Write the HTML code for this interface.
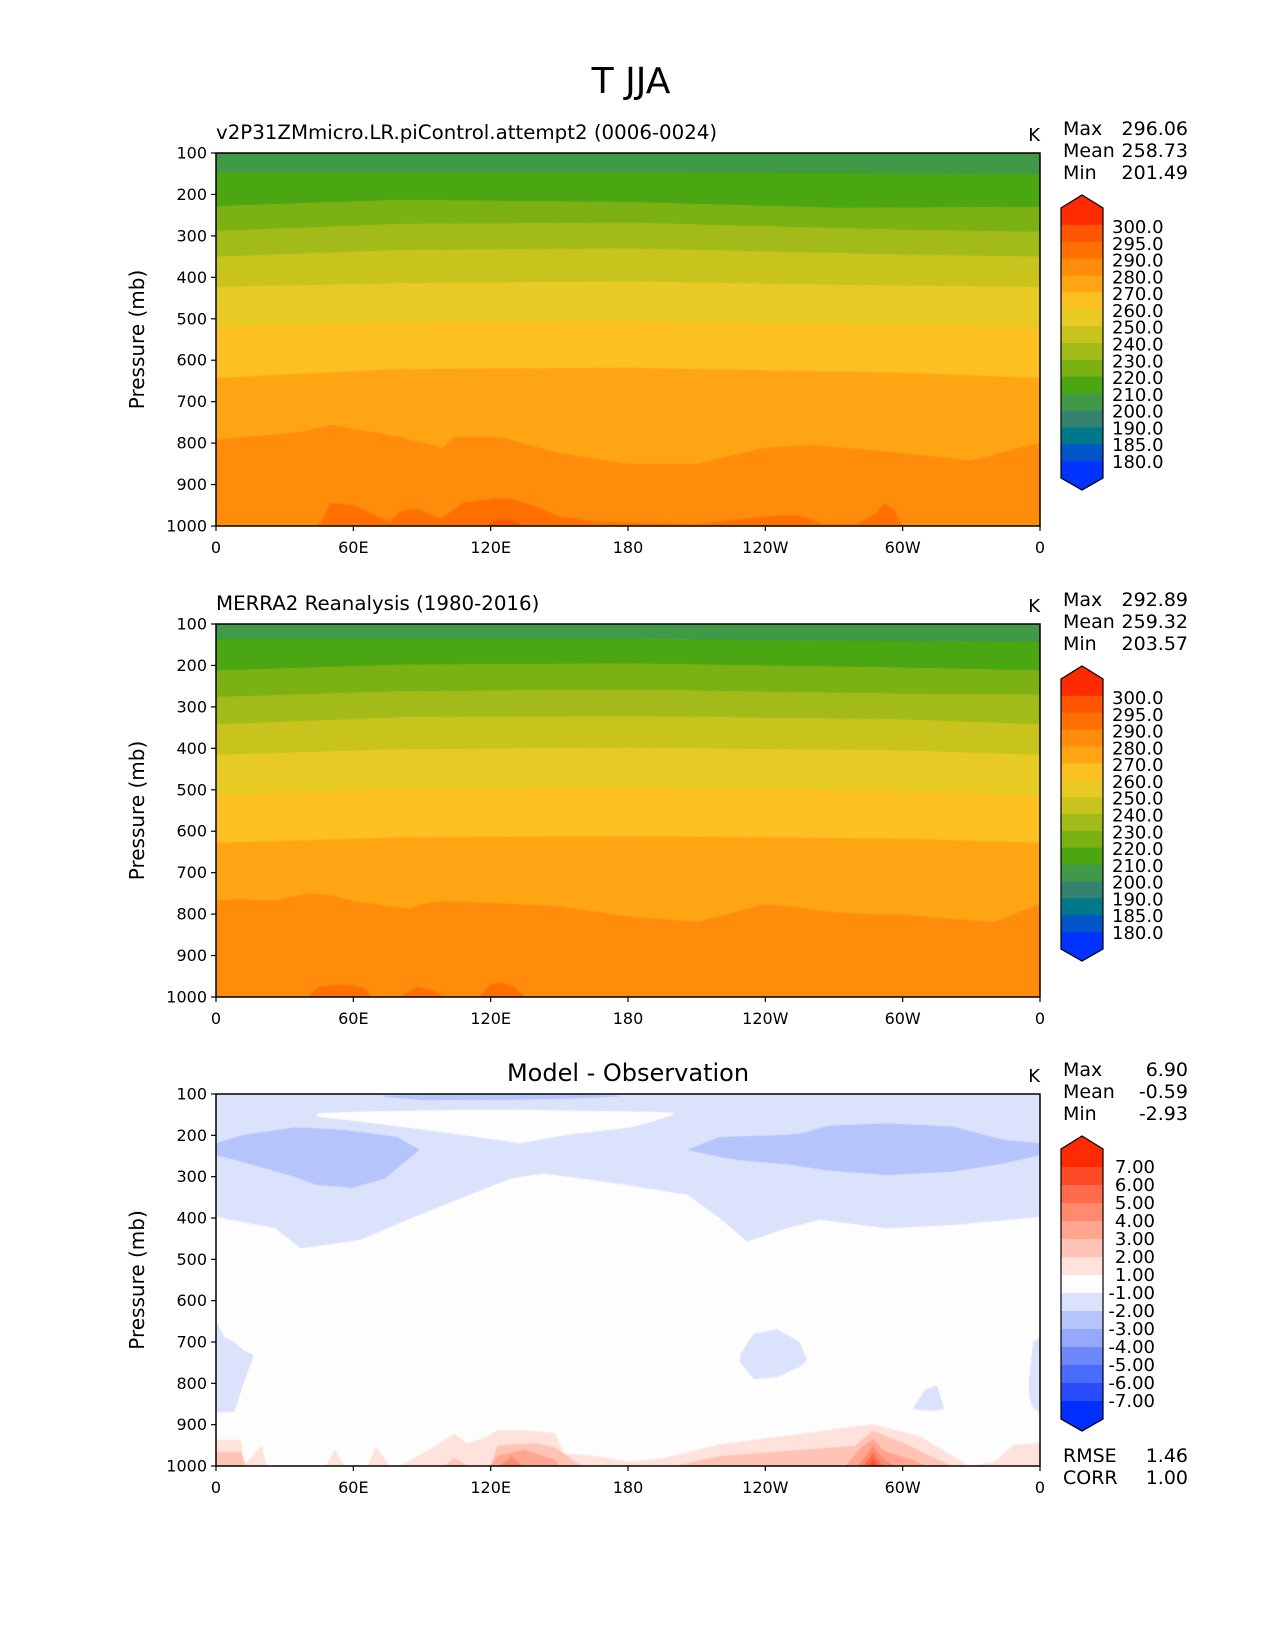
<!DOCTYPE html>
<html>
<head>
<meta charset="utf-8">
<style>
  html, body { margin: 0; padding: 0; background: #fff; }
  #page { position: relative; width: 1275px; height: 1650px; overflow: hidden; background: #fff; font-family: "DejaVu Sans", "Liberation Sans", sans-serif; }
  canvas { position: absolute; }
  svg { position: absolute; left: 0; top: 0; }
</style>
</head>
<body>
<div id="page">
  <canvas id="c1" width="824" height="373" style="left:216px;top:153px"></canvas>
  <canvas id="c2" width="824" height="373" style="left:216px;top:624px"></canvas>
  <canvas id="c3" width="824" height="372" style="left:216px;top:1094px"></canvas>
  <svg id="ov" width="1275" height="1650"></svg>
</div>
<script>
// ---------- shared tick data ----------
const xTickLons = [0, 60, 120, 180, 240, 300, 360];
const xTickLabels = ["0", "60E", "120E", "180", "120W", "60W", "0"];
const yTickVals = [100, 200, 300, 400, 500, 600, 700, 800, 900, 1000];

// ---------- panel 1 (model) contour boundaries: pressure (mb) vs longitude ----------
const m210Lons = [0, 180, 360];             const m210P = [146, 146, 150];
const m220Lons = [0, 80, 180, 270, 360];    const m220P = [228, 213, 218, 232, 230];
const m230Lons = [0, 80, 180, 300, 360];    const m230P = [288, 271, 268, 285, 290];
const m240Lons = [0, 80, 180, 300, 360];    const m240P = [350, 334, 330, 345, 350];
const m250Lons = [0, 80, 180, 300, 360];    const m250P = [423, 414, 410, 420, 423];
const m260Lons = [0, 80, 180, 300, 360];    const m260P = [520, 507, 505, 515, 520];
const m270Lons = [0, 80, 180, 300, 360];    const m270P = [643, 621, 618, 630, 643];
const m280Lons = [0, 37, 51, 80, 99, 104, 124, 150, 180, 210, 240, 260, 300, 330, 360];
const m280P    = [792, 773, 756, 785, 811, 785, 785, 824, 850, 850, 811, 804, 824, 842, 799];
const m290Lons = [0, 44, 46, 50, 60, 72, 76, 80, 88, 98, 108, 121, 129, 140, 150, 165, 180, 210, 235, 245, 255, 265, 280, 288, 292, 296, 300, 360];
const m290P    = [1000, 1000, 990, 944, 950, 980, 990, 966, 958, 983, 944, 934, 934, 953, 977, 988, 992, 995, 980, 975, 975, 995, 995, 970, 945, 960, 1000, 1000];
const m295Lons = [0, 118, 122, 130, 134, 360];
const m295P    = [1000, 1000, 985, 985, 1000, 1000];

// ---------- panel 2 (MERRA2) contour boundaries ----------
const o210Lons = [0, 180, 360];             const o210P = [136, 136, 143];
const o220Lons = [0, 80, 180, 300, 360];    const o220P = [212, 198, 195, 205, 212];
const o230Lons = [0, 80, 180, 300, 360];    const o230P = [276, 262, 258, 268, 270];
const o240Lons = [0, 80, 180, 300, 360];    const o240P = [342, 325, 322, 330, 342];
const o250Lons = [0, 80, 180, 300, 360];    const o250P = [416, 402, 398, 405, 416];
const o260Lons = [0, 80, 180, 300, 360];    const o260P = [513, 498, 495, 503, 513];
const o270Lons = [0, 80, 180, 300, 360];    const o270P = [628, 615, 612, 618, 628];
const o280Lons = [0, 10, 25, 40, 50, 60, 75, 85, 90, 100, 120, 150, 180, 210, 240, 250, 270, 290, 300, 320, 340, 360];
const o280P    = [768, 763, 768, 750, 755, 768, 781, 786, 776, 768, 773, 781, 806, 819, 776, 781, 796, 801, 801, 811, 819, 776];
const o290Lons = [0, 40, 45, 55, 60, 65, 68, 80, 88, 95, 100, 115, 120, 125, 130, 135, 360];
const o290P    = [1000, 1000, 975, 970, 972, 980, 1000, 1000, 975, 985, 1000, 1000, 970, 965, 975, 1000, 1000];
const o295Lons = [0, 360];
const o295P    = [1000, 1000];

// ---------- panel 3 (difference) regions ----------
const dL1Lons = [0, 26, 37, 63, 85, 107, 129, 143, 177, 206, 220, 232, 249, 264, 293, 322, 360];
const dL1P    = [397, 425, 473, 453, 401, 352, 304, 292, 318, 344, 400, 457, 425, 404, 425, 417, 397];
const dWhiteLons = [44, 60, 97, 133, 153, 181, 190, 200];
const dWhiteTop  = [147, 143, 139, 138, 140, 142, 143, 145];
const dWhiteBot  = [155, 165, 191, 219, 199, 181, 168, 150];
const dBlueALons = [0, 12, 34, 44, 56, 59, 74, 79, 89];
const dBlueATop  = [219, 199, 181, 183, 187, 189, 200, 204, 235];
const dBlueABot  = [248, 265, 300, 320, 325, 328, 304, 280, 235];
const dBlueBLons = [206, 220, 227, 249, 256, 267, 293, 322, 344, 360];
const dBlueBTop  = [235, 204, 203, 199, 195, 177, 171, 179, 211, 219];
const dBlueBBot  = [235, 252, 259, 270, 275, 285, 296, 288, 268, 248];
const dBlueCLons = [73, 90, 130, 160, 176];
const dBlueCTop  = [104, 101, 101, 101, 104];
const dBlueCBot  = [106, 115, 114, 110, 106];
const dPatchALons = [0, 4, 8, 12, 16];
const dPatchATop  = [651, 690, 700, 720, 730];
const dPatchABot  = [870, 870, 870, 800, 740];
const dPatchBLons = [229, 235, 245, 255, 258];
const dPatchBTop  = [730, 680, 669, 700, 740];
const dPatchBBot  = [750, 790, 785, 760, 745];
const dPatchCLons = [305, 310, 315, 318];
const dPatchCTop  = [855, 815, 805, 860];
const dPatchCBot  = [862, 866, 866, 862];
const dPatchDLons = [355, 357, 360];
const dPatchDTop  = [800, 700, 690];
const dPatchDBot  = [830, 860, 870];
const dR1Lons = [0, 11, 12, 20, 22, 30, 48, 52, 56, 66, 70, 76, 80, 90, 93, 104, 110, 118, 123, 135, 148, 152, 165, 181, 196, 220, 249, 270, 287, 307, 322, 329, 340, 348, 360];
const dR1P    = [937, 937, 1000, 950, 1000, 1000, 1000, 960, 1000, 1000, 955, 1000, 1000, 970, 962, 922, 945, 930, 914, 914, 920, 970, 975, 990, 980, 948, 927, 911, 899, 927, 976, 1000, 990, 951, 943];
const dR2Lons = [0, 11, 13, 100, 104, 110, 120, 123, 140, 148, 160, 200, 220, 249, 279, 287, 300, 315, 322, 360];
const dR2P    = [966, 966, 1000, 1000, 980, 1000, 1000, 950, 945, 955, 1000, 1000, 976, 964, 951, 915, 943, 984, 1000, 1000];
const dR3Lons = [0, 120, 123, 135, 148, 150, 275, 281, 287, 292, 304, 310, 360];
const dR3P    = [1000, 1000, 975, 961, 985, 1000, 1000, 960, 935, 964, 984, 1000, 1000];
const dR4Lons = [0, 124, 129, 134, 280, 284, 287, 290, 296, 360];
const dR4P    = [1000, 1000, 977, 1000, 1000, 975, 951, 975, 1000, 1000];
const dR5Lons = [0, 283, 287, 291, 360];
const dR5P    = [1000, 1000, 968, 1000, 1000];
const dR6Lons = [0, 285, 287, 289, 360];
const dR6P    = [1000, 1000, 985, 1000, 1000];

// ---------- colorbar data ----------
const tColors = ["#ff2a00","#ff5500","#ff7000","#ff8c0a","#ffa513","#fcc020","#e8ca24","#c8c41d","#a2bb18","#7bb113","#4aa611","#3f9946","#35836e","#00788c","#0056c8","#0033ff"];
const tLabels = ["300.0","295.0","290.0","280.0","270.0","260.0","250.0","240.0","230.0","220.0","210.0","200.0","190.0","185.0","180.0"];
const dColors = ["#ff2a00","#ff4a28","#ff6a4a","#ff8a6e","#ffa590","#ffc4b6","#ffe2db","#fdfdfd","#dbe2fc","#b6c4fc","#95a8fc","#6e88fc","#4a6cfc","#2a4cfc","#0030ff"];
const dLabels = ["7.00","6.00","5.00","4.00","3.00","2.00","1.00","-1.00","-2.00","-3.00","-4.00","-5.00","-6.00","-7.00"];

// ---------- helpers ----------
function interp(xs, ys, x) {
  if (x <= xs[0]) return ys[0];
  if (x >= xs[xs.length - 1]) return ys[ys.length - 1];
  for (let i = 1; i < xs.length; i++) {
    if (x <= xs[i]) { const t = (x - xs[i-1]) / (xs[i] - xs[i-1]); return ys[i-1] + t * (ys[i] - ys[i-1]); }
  }
  return ys[ys.length - 1];
}
function makeY(H) { return p => (p - 100) / 900 * H; }

function drawBands(canvasId, bounds, colors) {
  const cv = document.getElementById(canvasId), ctx = cv.getContext('2d');
  const W = cv.width, H = cv.height, yS = makeY(H);
  for (let px = 0; px < W; px++) {
    const lon = (px + 0.5) / W * 360;
    let prev = 0;
    for (let b = 0; b <= bounds.length; b++) {
      let y = b < bounds.length ? yS(interp(bounds[b][0], bounds[b][1], lon)) : H;
      if (y < prev) y = prev;
      ctx.fillStyle = colors[b];
      ctx.fillRect(px, prev, 1, y - prev + 0.6);
      prev = y;
    }
  }
}

drawBands('c1',
  [[m210Lons,m210P],[m220Lons,m220P],[m230Lons,m230P],[m240Lons,m240P],[m250Lons,m250P],[m260Lons,m260P],[m270Lons,m270P],[m280Lons,m280P],[m290Lons,m290P],[m295Lons,m295P]],
  ["#3f9946","#4aa611","#7bb113","#a2bb18","#c8c41d","#e8ca24","#fcc020","#ffa513","#ff8c0a","#ff7000","#ff5500"]);
drawBands('c2',
  [[o210Lons,o210P],[o220Lons,o220P],[o230Lons,o230P],[o240Lons,o240P],[o250Lons,o250P],[o260Lons,o260P],[o270Lons,o270P],[o280Lons,o280P],[o290Lons,o290P],[o295Lons,o295P]],
  ["#3f9946","#4aa611","#7bb113","#a2bb18","#c8c41d","#e8ca24","#fcc020","#ffa513","#ff8c0a","#ff7000","#ff5500"]);

(function drawDiff() {
  const cv = document.getElementById('c3'), ctx = cv.getContext('2d');
  const W = cv.width, H = cv.height, yS = makeY(H);
  ctx.fillStyle = "#fdfdfd"; ctx.fillRect(0, 0, W, H);
  function region(lons, top, bot, color) {
    ctx.fillStyle = color;
    for (let px = 0; px < W; px++) {
      const lon = (px + 0.5) / W * 360;
      if (lon < lons[0] || lon > lons[lons.length - 1]) continue;
      const y0 = yS(interp(lons, top, lon)), y1 = yS(interp(lons, bot, lon));
      if (y1 > y0) ctx.fillRect(px, y0, 1, y1 - y0);
    }
  }
  function fromTop(lons, pv, color) {
    ctx.fillStyle = color;
    for (let px = 0; px < W; px++) {
      const lon = (px + 0.5) / W * 360;
      const y = yS(interp(lons, pv, lon));
      if (y < H) ctx.fillRect(px, y, 1, H - y);
    }
  }
  ctx.fillStyle = "#dbe2fc";
  for (let px = 0; px < W; px++) {
    const lon = (px + 0.5) / W * 360;
    ctx.fillRect(px, 0, 1, yS(interp(dL1Lons, dL1P, lon)));
  }
  region(dWhiteLons, dWhiteTop, dWhiteBot, "#fdfdfd");
  region(dBlueALons, dBlueATop, dBlueABot, "#b6c4fc");
  region(dBlueBLons, dBlueBTop, dBlueBBot, "#b6c4fc");
  region(dBlueCLons, dBlueCTop, dBlueCBot, "#b6c4fc");
  region(dPatchALons, dPatchATop, dPatchABot, "#dbe2fc");
  region(dPatchBLons, dPatchBTop, dPatchBBot, "#dbe2fc");
  region(dPatchCLons, dPatchCTop, dPatchCBot, "#dbe2fc");
  region(dPatchDLons, dPatchDTop, dPatchDBot, "#dbe2fc");
  fromTop(dR1Lons, dR1P, "#ffe2db");
  fromTop(dR2Lons, dR2P, "#ffc4b6");
  fromTop(dR3Lons, dR3P, "#ffa590");
  fromTop(dR4Lons, dR4P, "#ff8a6e");
  fromTop(dR5Lons, dR5P, "#ff6a4a");
  fromTop(dR6Lons, dR6P, "#ff4a28");
})();

// ---------- SVG annotations ----------
const NS = "http://www.w3.org/2000/svg";
const svg = document.getElementById('ov');
function el(tag, attrs, text) {
  const e = document.createElementNS(NS, tag);
  for (const k in attrs) e.setAttribute(k, attrs[k]);
  if (text !== undefined) e.textContent = text;
  svg.appendChild(e);
  return e;
}
const PX = 216, PW = 824, PH = 373;

let t = el('text', {x: 631, y: 93, 'font-size': 36, 'text-anchor': 'middle', fill: '#000'}, 'T JJA');



const panels = [
  {top: 153, h: 373, title: "v2P31ZMmicro.LR.piControl.attempt2 (0006-0024)", centerTitle: false, stats: [["Max","296.06"],["Mean","258.73"],["Min","201.49"]], cb: "t", key: "model"},
  {top: 624, h: 373, title: "MERRA2 Reanalysis (1980-2016)", centerTitle: false, stats: [["Max","292.89"],["Mean","259.32"],["Min","203.57"]], cb: "t", key: "obs"},
  {top: 1094, h: 372, title: "Model - Observation", centerTitle: true, stats: [["Max","6.90"],["Mean","-0.59"],["Min","-2.93"]], cb: "d", key: "diff"}
];

panels.forEach(P => {
  const top = P.top, H = P.h;
  const yS = p => top + (p - 100) / 900 * H;
  const xS = lon => PX + lon / 360 * PW;
  let fr = el('rect', {x: PX, y: top, width: PW, height: H, fill: 'none', stroke: '#000', 'stroke-width': 1.5});
  
  
  yTickVals.forEach(v => {
    const y = yS(v);
    let tk = el('line', {x1: PX - 5, x2: PX, y1: y, y2: y, stroke: '#000', 'stroke-width': 1.2});
    
    
    let lb = el('text', {x: PX - 9, y: y + 5.5, 'font-size': 16, 'text-anchor': 'end', fill: '#000'}, String(v));
    
    
  });
  xTickLons.forEach((lon, i) => {
    const x = xS(lon);
    let tk = el('line', {x1: x, x2: x, y1: top + H, y2: top + H + 5, stroke: '#000', 'stroke-width': 1.2});
    
    
    let lb = el('text', {x: x, y: top + H + 27, 'font-size': 16, 'text-anchor': 'middle', fill: '#000'}, xTickLabels[i]);
    
    
  });
  let yl = el('text', {x: 0, y: 0, 'font-size': 20, 'text-anchor': 'middle', fill: '#000', transform: 'translate(144,' + (top + H / 2) + ') rotate(-90)'}, 'Pressure (mb)');
  
  
  let ti;
  if (P.centerTitle) ti = el('text', {x: PX + PW / 2, y: top - 13, 'font-size': 24, 'text-anchor': 'middle', fill: '#000'}, P.title);
  else ti = el('text', {x: PX, y: top - 14, 'font-size': 19.8, fill: '#000'}, P.title);
  
  
  let k = el('text', {x: PX + PW, y: top - 12, 'font-size': 18, 'text-anchor': 'end', fill: '#000'}, 'K');
  
  
  P.stats.forEach((s, i) => {
    const by = top - 18 + i * 22;
    let a = el('text', {x: 1063, y: by, 'font-size': 19, fill: '#000'}, s[0]);
    
    
    let b = el('text', {x: 1188, y: by, 'font-size': 19, 'text-anchor': 'end', fill: '#000'}, s[1]);
    
    
  });
  const cols = P.cb === 't' ? tColors : dColors;
  const labs = P.cb === 't' ? tLabels : dLabels;
  const cx0 = 1061, cx1 = 1103, cTop = top + 55, cBot = top + 325;
  const n = cols.length, bh = (cBot - cTop) / n;
  let tri1 = el('polygon', {points: `${cx0},${cTop} ${(cx0+cx1)/2},${top+42} ${cx1},${cTop}`, fill: cols[0]});
  
  
  let tri2 = el('polygon', {points: `${cx0},${cBot} ${(cx0+cx1)/2},${top+337} ${cx1},${cBot}`, fill: cols[n-1]});
  
  
  cols.forEach((c, i) => {
    let r = el('rect', {x: cx0, y: cTop + i * bh, width: cx1 - cx0, height: bh + 0.5, fill: c});
    
    
  });
  let ol = el('polygon', {points: `${cx0},${cTop} ${(cx0+cx1)/2},${top+42} ${cx1},${cTop} ${cx1},${cBot} ${(cx0+cx1)/2},${top+337} ${cx0},${cBot}`, fill: 'none', stroke: '#000', 'stroke-width': 1.2});
  
  
  if (P.cb === 't') {
    const y0 = top + 74, y1 = top + 309, step = (y1 - y0) / (labs.length - 1);
    labs.forEach((l, i) => {
      let lb = el('text', {x: 1112, y: y0 + i * step + 6, 'font-size': 18, fill: '#000'}, l);
      
      
    });
  } else {
    labs.forEach((l, i) => {
      let lb = el('text', {x: 1155, y: cTop + (i + 1) * bh + 6, 'font-size': 18, 'text-anchor': 'end', fill: '#000'}, l);
      
      
    });
    [["RMSE","1.46"],["CORR","1.00"]].forEach((s, i) => {
      const by = top + 368 + i * 22;
      let a = el('text', {x: 1063, y: by, 'font-size': 19, fill: '#000'}, s[0]);
      
      
      let b = el('text', {x: 1188, y: by, 'font-size': 19, 'text-anchor': 'end', fill: '#000'}, s[1]);
      
      
    });
  }
});
</script>
</body>
</html>
